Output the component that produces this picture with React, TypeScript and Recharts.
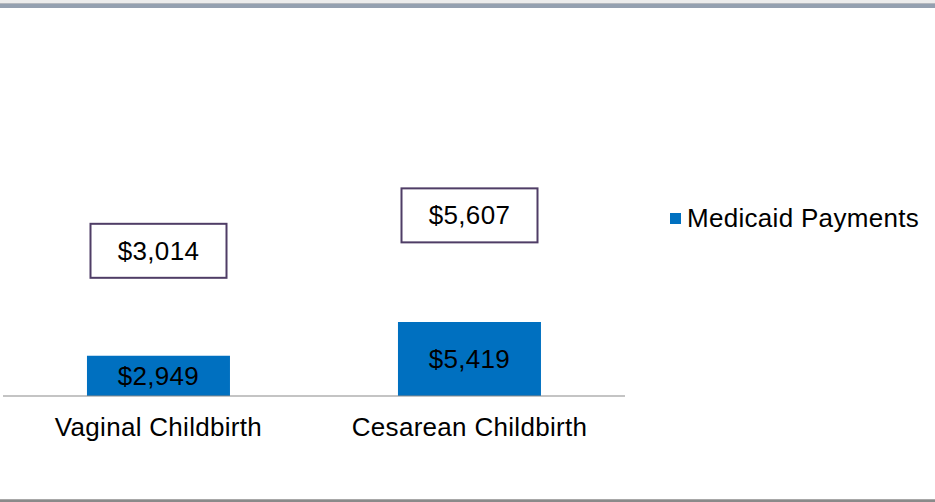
import { BarChart, Bar, Line, XAxis, YAxis, LabelList } from "recharts";

const categories = ["Vaginal Childbirth", "Cesarean Childbirth"];
const medicaidPayments = [2949, 5419];
const totalPayments = [3014, 5607];

const data = categories.map((name, i) => ({
  name,
  medicaid: medicaidPayments[i],
  total: totalPayments[i],
}));

const FONT = "'Liberation Sans', Arial, sans-serif";
const fmt = (v: number) => "$" + v.toLocaleString("en-US");

// boxed label drawn above the bar for the total payment series
function BoxLabel(props: any) {
  const { x, y, value } = props;
  const cy = y - 104;
  return (
    <g>
      <rect
        x={x - 68}
        y={cy - 27}
        width={136}
        height={54}
        fill="#fff"
        stroke="#4f3d66"
        strokeWidth={2}
      />
      <text
        x={x}
        y={cy}
        textAnchor="middle"
        dominantBaseline="central"
        fontFamily={FONT}
        fontSize={26}
        letterSpacing={0.3}
        fill="#000"
      >
        {fmt(value)}
      </text>
    </g>
  );
}

export default function App() {
  return (
    <div style={{ position: "absolute", left: 0, top: 0, width: 935, height: 502, background: "#fff", overflow: "hidden" }}>
      <div style={{ position: "absolute", left: 0, top: 0, width: 935, height: 3, background: "#ececec" }} />
      <div style={{ position: "absolute", left: 0, top: 3, width: 935, height: 1, background: "#b4b8be" }} />
      <div style={{ position: "absolute", left: 0, top: 4, width: 935, height: 4, background: "#94a0b0" }} />
      <div style={{ position: "absolute", left: 0, top: 499, width: 935, height: 1, background: "#a8a8a8" }} />
      <div style={{ position: "absolute", left: 0, top: 500, width: 935, height: 2, background: "#8a8a8a" }} />
      <BarChart
        width={935}
        height={502}
        data={data}
        margin={{ top: 27, right: 310, left: 3, bottom: 76 }}
        barCategoryGap="27%"
        style={{ position: "absolute", left: 0, top: 0 }}
      >
        <XAxis
          dataKey="name"
          height={30}
          axisLine={{ stroke: "#898989", strokeWidth: 1 }}
          tickLine={false}
          tickMargin={16}
          tick={{ fill: "#000", fontFamily: FONT, fontSize: 26, letterSpacing: 0.3 }}
        />
        <YAxis hide domain={[0, 27000]} />
        <Bar dataKey="medicaid" name="Medicaid Payments" fill="#0070c0" isAnimationActive={false}>
          <LabelList
            dataKey="medicaid"
            position="center"
            formatter={(v: any) => fmt(Number(v))}
            style={{ fill: "#000", fontFamily: FONT, fontSize: 26, letterSpacing: 0.3 }}
          />
        </Bar>
        <Line
          dataKey="total"
          stroke="none"
          dot={false}
          activeDot={false}
          legendType="none"
          isAnimationActive={false}
        >
          <LabelList dataKey="total" content={<BoxLabel />} />
        </Line>
      </BarChart>
      <div
        style={{
          position: "absolute",
          left: 670,
          top: 203,
          display: "flex",
          alignItems: "center",
          fontFamily: FONT,
          fontSize: 26,
          letterSpacing: 0.3,
          color: "#000",
          whiteSpace: "nowrap",
        }}
      >
        <span style={{ width: 11, height: 11, background: "#0070c0", marginRight: 6 }} />
        <span>Medicaid Payments</span>
      </div>
    </div>
  );
}
